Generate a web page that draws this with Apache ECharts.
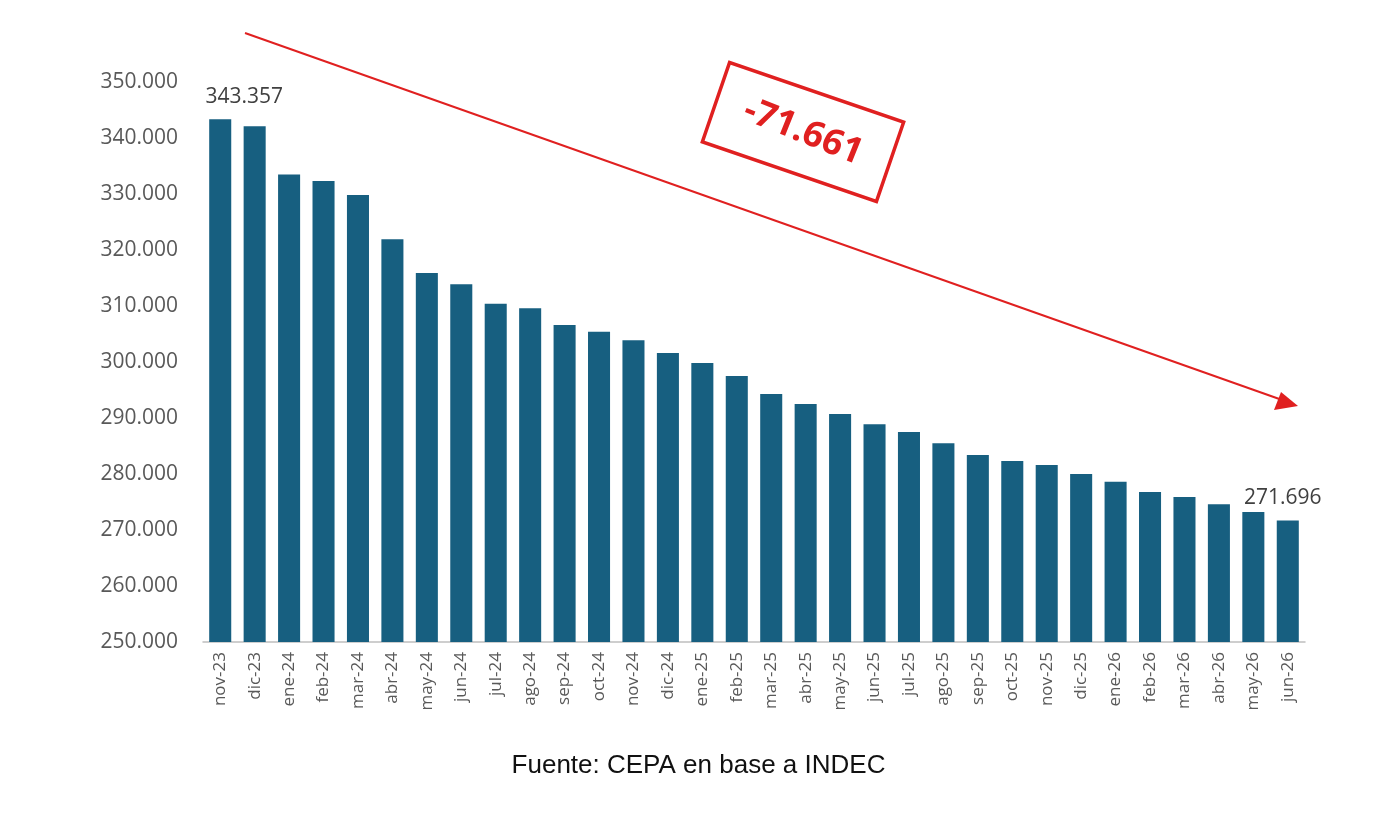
<!DOCTYPE html>
<html>
<head>
<meta charset="utf-8">
<script src="https://cdn.jsdelivr.net/npm/echarts@6/dist/echarts.min.js"></script>
<style>html,body{margin:0;padding:0;background:#fff}#main{width:1397px;height:834px}</style>
</head>
<body>
<div id="main"></div>
<script>
var meses = ['nov-23','dic-23','ene-24','feb-24','mar-24','abr-24','may-24','jun-24','jul-24','ago-24','sep-24','oct-24','nov-24','dic-24','ene-25','feb-25','mar-25','abr-25','may-25','jun-25','jul-25','ago-25','sep-25','oct-25','nov-25','dic-25','ene-26','feb-26','mar-26','abr-26','may-26','jun-26'];
var valores = [343357,342100,333500,332300,329800,321900,315900,313900,310400,309600,306600,305400,303900,301600,299800,297500,294300,292500,290700,288900,287500,285500,283400,282300,281600,280000,278600,276800,275900,274600,273200,271696];
var yTicks = [250000, 350000, 10000];

function fmt(v){ return String(v).replace(/\B(?=(\d{3})+(?!\d))/g, '.'); }

var chart = echarts.init(document.getElementById('main'));
var last = valores.length - 1;

var barData = valores.map(function(v, i){
  var d = {value: v};
  if (i === 0) d.label = {offset: [24, 0]};
  if (i === last) d.label = {offset: [-5, 0]};
  return d;
});

chart.setOption({
  animation: false,
  grid: {left: 203, right: 92, top: 82, bottom: 192},
  xAxis: {
    type: 'category',
    data: meses,
    axisLine: {lineStyle: {color: '#bfbfbf', width: 1.5}},
    axisTick: {show: false},
    axisLabel: {rotate: 90, color: '#595959', fontSize: 17, fontFamily: 'Open Sans', margin: 10}
  },
  yAxis: {
    type: 'value',
    min: yTicks[0], max: yTicks[1], interval: yTicks[2],
    axisLine: {show: false},
    splitLine: {show: false},
    axisLabel: {color: '#595959', fontSize: 21, fontFamily: 'Open Sans', margin: 25, formatter: fmt}
  },
  series: [{
    type: 'bar',
    data: barData,
    barWidth: '64%',
    itemStyle: {color: '#175f80'},
    label: {
      show: true, position: 'top', color: '#404040', fontSize: 21, fontFamily: 'Open Sans', distance: 12,
      formatter: function(p){ return (p.dataIndex === 0 || p.dataIndex === last) ? fmt(p.value) : ''; }
    }
  }],
  graphic: [
    {type: 'line', shape: {x1: 245, y1: 33, x2: 1285, y2: 401}, style: {stroke: '#e02020', lineWidth: 2}},
    {type: 'polygon', shape: {points: [[1298, 406], [1274, 410], [1281, 392]]}, style: {fill: '#e02020'}},
    {type: 'group', x: 803, y: 132, rotation: -0.33, children: [
      {type: 'rect', shape: {x: -92, y: -42, width: 184, height: 84}, style: {fill: '#fff', stroke: '#e02020', lineWidth: 3.5}},
      {type: 'text', rotation: -0.05, style: {text: '-71.661', x: 0, y: 0, align: 'center', verticalAlign: 'middle', fill: '#e02020', font: 'bold 36px "Open Sans"'}}
    ]},
    {type: 'text', left: 'center', top: 753, style: {text: 'Fuente: CEPA en base a INDEC', fill: '#111', font: '26px "Liberation Sans"'}}
  ]
});
</script>
</body>
</html>
